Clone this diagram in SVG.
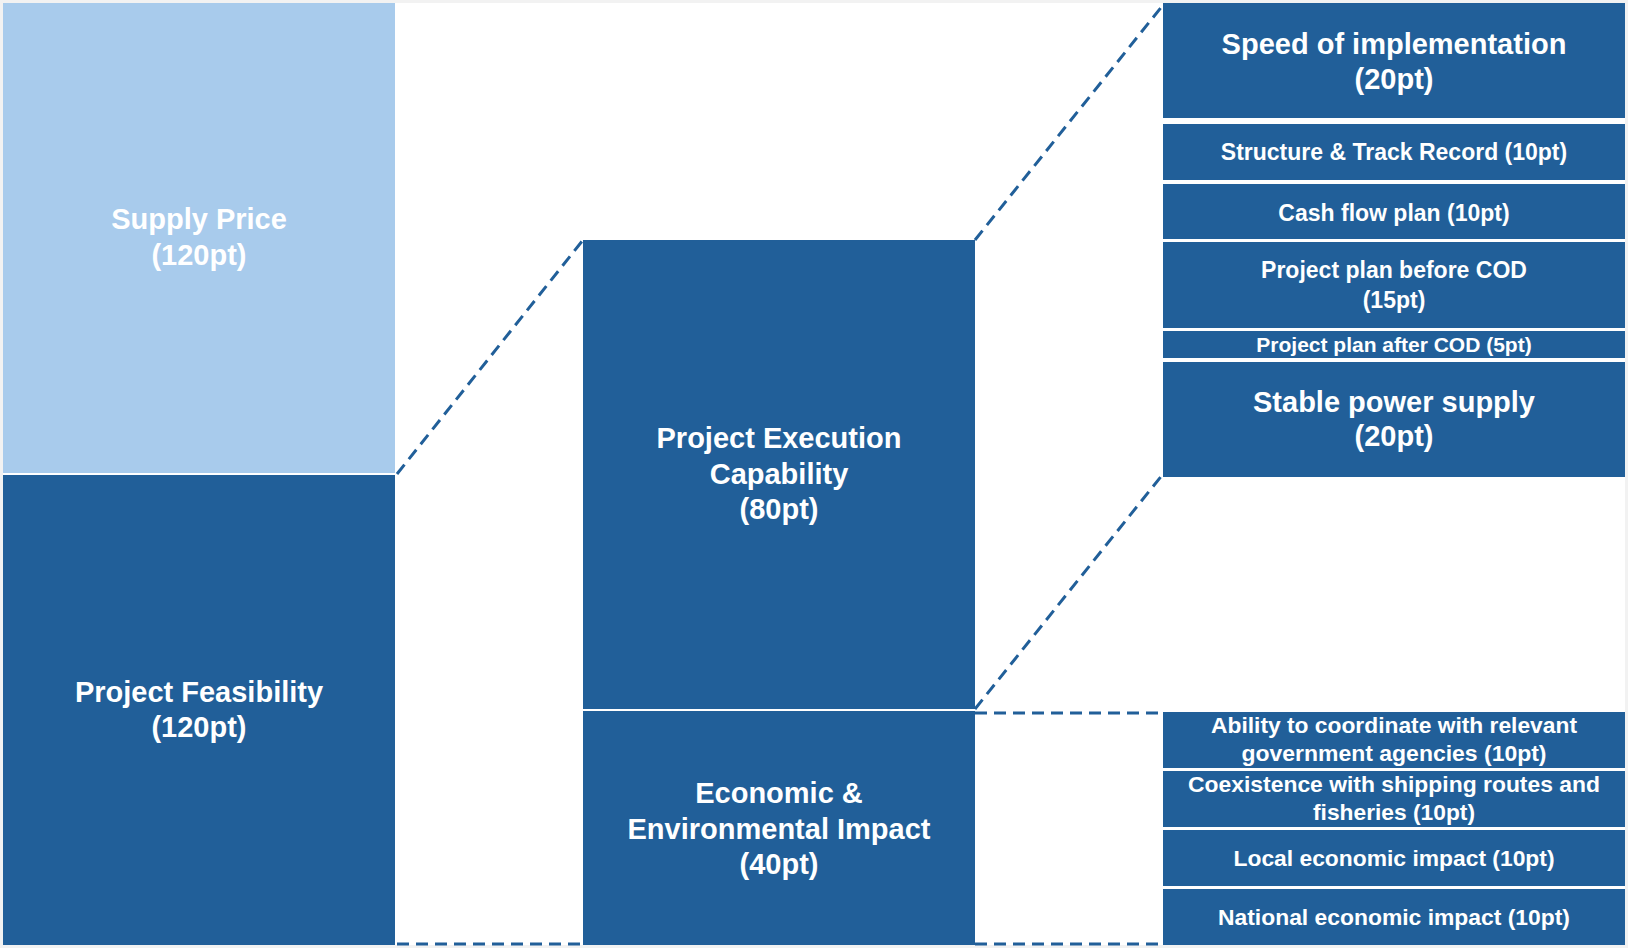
<svg xmlns="http://www.w3.org/2000/svg" width="1628" height="948" viewBox="0 0 1628 948">
<style>
.d{fill:#215F99}.l{fill:#A8CBEC}
text{font-family:"Liberation Sans",Arial,sans-serif;font-weight:bold;fill:#fff;text-anchor:middle}
.b{font-size:29px}.m{font-size:23px}.s{font-size:21px}.n{font-size:22px}
.c{stroke:#215F99;stroke-width:3;stroke-dasharray:12 7;fill:none}
</style>
<rect width="1628" height="948" fill="#f2f2f2"/>
<rect x="3" y="3" width="1622" height="942" fill="#fff"/>
<g id="supply"><rect class="l" x="3" y="3" width="392" height="470"/><text class="b" x="199" y="229">Supply Price</text><text class="b" x="199" y="265">(120pt)</text></g>
<g id="feas"><rect class="d" x="3" y="475" width="392" height="470"/><text class="b" x="199" y="702">Project Feasibility</text><text class="b" x="199" y="737">(120pt)</text></g>
<g id="pec"><rect class="d" x="583" y="240" width="392" height="469"/><text class="b" x="779" y="448">Project Execution</text><text class="b" x="779" y="484">Capability</text><text class="b" x="779" y="519">(80pt)</text></g>
<g id="econ"><rect class="d" x="583" y="711" width="392" height="234"/><text class="b" x="779" y="803">Economic &amp;</text><text class="b" x="779" y="839">Environmental Impact</text><text class="b" x="779" y="874">(40pt)</text></g>
<g id="r1"><rect class="d" x="1163" y="3" width="462" height="115"/><text class="b" x="1394" y="54">Speed of implementation</text><text class="b" x="1394" y="89">(20pt)</text></g>
<g id="r2"><rect class="d" x="1163" y="124" width="462" height="56"/><text class="m" x="1394" y="160">Structure &amp; Track Record (10pt)</text></g>
<g id="r3"><rect class="d" x="1163" y="184" width="462" height="55"/><text class="m" x="1394" y="221">Cash flow plan (10pt)</text></g>
<g id="r4"><rect class="d" x="1163" y="242" width="462" height="86"/><text class="m" x="1394" y="278">Project plan before COD</text><text class="m" x="1394" y="308">(15pt)</text></g>
<g id="r5"><rect class="d" x="1163" y="331" width="462" height="27"/><text class="s" x="1394" y="352">Project plan after COD (5pt)</text></g>
<g id="r6"><rect class="d" x="1163" y="362" width="462" height="115"/><text class="b" x="1394" y="412">Stable power supply</text><text class="b" x="1394" y="446">(20pt)</text></g>
<g id="e1"><rect class="d" x="1163" y="712" width="462" height="56"/><text class="n" x="1394" y="733" textLength="366" lengthAdjust="spacingAndGlyphs">Ability to coordinate with relevant</text><text class="n" x="1394" y="761" textLength="305" lengthAdjust="spacingAndGlyphs">government agencies (10pt)</text></g>
<g id="e2"><rect class="d" x="1163" y="771" width="462" height="56"/><text class="n" x="1394" y="792" textLength="412" lengthAdjust="spacingAndGlyphs">Coexistence with shipping routes and</text><text class="n" x="1394" y="820" textLength="162" lengthAdjust="spacingAndGlyphs">fisheries (10pt)</text></g>
<g id="e3"><rect class="d" x="1163" y="830" width="462" height="56"/><text class="n" x="1394" y="866" textLength="321" lengthAdjust="spacingAndGlyphs">Local economic impact (10pt)</text></g>
<g id="e4"><rect class="d" x="1163" y="889" width="462" height="56"/><text class="n" x="1394" y="925" textLength="352" lengthAdjust="spacingAndGlyphs">National economic impact (10pt)</text></g>
<g id="connectors">
<line class="c" x1="397" y1="474" x2="583" y2="240"/>
<line class="c" x1="975" y1="240" x2="1163" y2="5"/>
<line class="c" x1="975" y1="709" x2="1163" y2="474"/>
<line class="c" x1="975" y1="713" x2="1163" y2="713"/>
<line class="c" x1="397" y1="944" x2="583" y2="944"/>
<line class="c" x1="975" y1="944" x2="1163" y2="944"/>
</g>
</svg>
